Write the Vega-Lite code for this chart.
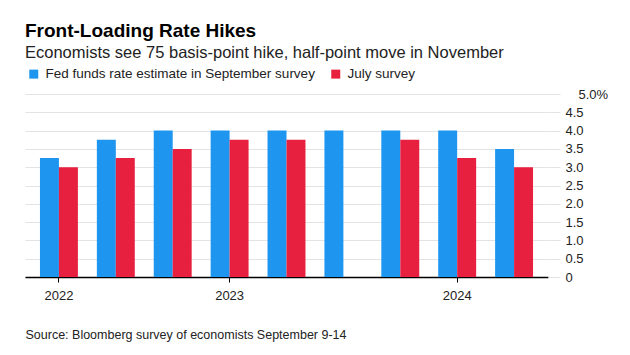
{
  "$schema": "https://vega.github.io/schema/vega-lite/v6.json",
  "width": 523,
  "height": 183,
  "autosize": {"type": "none"},
  "padding": {"left": 25, "top": 94, "right": 82, "bottom": 78},
  "background": "white",
  "config": {
    "font": "Liberation Sans",
    "view": {"stroke": null}
  },
  "title": {
    "text": "Front-Loading Rate Hikes",
    "subtitle": "Economists see 75 basis-point hike, half-point move in November",
    "anchor": "start",
    "frame": "group",
    "fontSize": 19,
    "fontWeight": "bold",
    "color": "#000000",
    "subtitleFontSize": 16.5,
    "subtitleColor": "#222222",
    "subtitlePadding": 4,
    "offset": 6
  },
  "data": {
    "values": [
      {"period": "3Q22", "series": "Fed funds rate estimate in September survey", "value": 3.25},
      {"period": "4Q22", "series": "Fed funds rate estimate in September survey", "value": 3.75},
      {"period": "1Q23", "series": "Fed funds rate estimate in September survey", "value": 4.0},
      {"period": "2Q23", "series": "Fed funds rate estimate in September survey", "value": 4.0},
      {"period": "3Q23", "series": "Fed funds rate estimate in September survey", "value": 4.0},
      {"period": "4Q23", "series": "Fed funds rate estimate in September survey", "value": 4.0},
      {"period": "1Q24", "series": "Fed funds rate estimate in September survey", "value": 4.0},
      {"period": "2Q24", "series": "Fed funds rate estimate in September survey", "value": 4.0},
      {"period": "3Q24", "series": "Fed funds rate estimate in September survey", "value": 3.5},
      {"period": "3Q22", "series": "July survey", "value": 3.0},
      {"period": "4Q22", "series": "July survey", "value": 3.25},
      {"period": "1Q23", "series": "July survey", "value": 3.5},
      {"period": "2Q23", "series": "July survey", "value": 3.75},
      {"period": "3Q23", "series": "July survey", "value": 3.75},
      {"period": "4Q23", "series": "July survey", "value": 0},
      {"period": "1Q24", "series": "July survey", "value": 3.75},
      {"period": "2Q24", "series": "July survey", "value": 3.25},
      {"period": "3Q24", "series": "July survey", "value": 3.0}
    ]
  },
  "mark": {"type": "bar"},
  "encoding": {
    "x": {
      "field": "period",
      "type": "nominal",
      "sort": null,
      "scale": {"paddingInner": 0.3333, "paddingOuter": 0.263},
      "axis": {
        "values": ["3Q22", "2Q23", "2Q24"],
        "labelExpr": "'20' + substring(datum.value, 2)",
        "labelAngle": 0,
        "labelFontSize": 13,
        "labelColor": "#222222",
        "labelPadding": 7,
        "domainColor": "#000000",
        "domainWidth": 1.5,
        "tickColor": "#000000",
        "tickSize": 5,
        "tickWidth": 1,
        "grid": false,
        "title": "Source: Bloomberg survey of economists September 9-14",
        "titleFontSize": 12.5,
        "titleFontWeight": "normal",
        "titleColor": "#222222",
        "titleAlign": "left",
        "titleAnchor": "start",
        "titleBaseline": "alphabetic",
        "titleX": 0,
        "titleY": 61
      }
    },
    "xOffset": {
      "field": "series",
      "type": "nominal",
      "sort": ["Fed funds rate estimate in September survey", "July survey"],
      "scale": {"paddingInner": 0, "paddingOuter": 0}
    },
    "y": {
      "field": "value",
      "type": "quantitative",
      "scale": {"domain": [0, 5], "nice": false},
      "axis": {
        "orient": "right",
        "values": [0, 0.5, 1, 1.5, 2, 2.5, 3, 3.5, 4, 4.5, 5],
        "labelExpr": "datum.value == 5 ? '5.0%' : (datum.value == 0 ? '0' : format(datum.value, '.1f'))",
        "labelAlign": "left",
        "labelFontSize": 13,
        "labelColor": "#222222",
        "labelPadding": {"condition": {"test": "datum.value == 5", "value": 18}, "value": 5},
        "domain": false,
        "grid": true,
        "gridColor": "#e3e3e3",
        "gridWidth": 1,
        "tickColor": "#e3e3e3",
        "tickSize": 12,
        "title": null
      }
    },
    "color": {
      "field": "series",
      "type": "nominal",
      "sort": ["Fed funds rate estimate in September survey", "July survey"],
      "scale": {
        "domain": ["Fed funds rate estimate in September survey", "July survey"],
        "range": ["#1e96f0", "#e8203f"]
      },
      "legend": {
        "orient": "none",
        "legendX": 2,
        "legendY": -27,
        "direction": "horizontal",
        "title": null,
        "symbolType": "square",
        "symbolSize": 81,
        "symbolStrokeWidth": 0,
        "labelFontSize": 13.5,
        "labelLimit": 400,
        "labelColor": "#222222",
        "labelOffset": 5,
        "columnPadding": 14
      }
    }
  }
}
